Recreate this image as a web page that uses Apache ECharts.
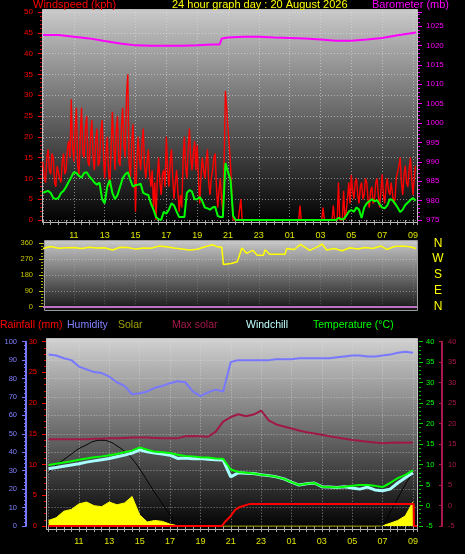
<!DOCTYPE html>
<html><head><meta charset="utf-8">
<script src="https://cdn.jsdelivr.net/npm/echarts@6/dist/echarts.min.js"></script>
<style>html,body{margin:0;padding:0;background:#000;}#c{width:465px;height:554px;}</style>
</head><body><div id="c"></div>
<script>
// ---- time base: hours after 09:00 on 19 Aug ----
// Wind gust (5-minute samples)
const windGust = [
 14,10,9,15,17,12,11,16,15,9,8,13,
 13,10,9,14,16,11,12,17,19,15,29,18,
 14,22,27,13,11,20,27,16,15,22,25,14,
 13,20,24,15,12,19,22,13,14,21,24,16,
 10,16,20,12,8,17,26,18,12,21,25,14,
 13,22,27,18,15,30,35,14,10,18,23,15,
 2,14,20,15,12,18,22,13,10,14,17,11,
 8,12,3,9,0,10,15,9,6,11,12,8,
 20,12,8,14,17,10,5,9,12,7,2,6,
 3,14,20,13,10,17,22,15,12,16,19,12,
 18,10,4,11,15,12,10,14,17,9,6,10,
 12,15,16,8,3,7,10,5,2,14,31,27,
 22,18,13,6,0,0,0,0,0,0,5,0,
 0,0,0,0,0,0,0,0,0,0,0,0,
 0,0,0,0,0,0,0,0,0,0,0,0,
 0,0,0,0,0,0,0,0,0,0,0,0,
 0,0,0,0,0,0,0,0,3.5,0,0,0,
 0,0,0,0,0,0,0,0,0,0,0,0,
 0,0,3,0,0,0,0,0,0,0,3.5,0,
 0,0,9,0,0,0,7,0,2,5,9,4,
 10.8,7,5,9,10,6,4,8,9,5,6,10,
 9,5,3,7,8,4,5,9,10,6,3,7,
 11,6,4,8,10,7,6,9,9,4,5,10,
 10,13,15,9,6,11,13,9,8,12,15,10,
 6,10,13];
// Average wind (10-minute samples)
const windAvg = [
 6.5,6.8,7,6.5,5.3,5,5.3,6.5,7,8,9.2,10.3,
 11.5,11.3,10.6,10.2,11.3,11.5,10.5,9.8,9,8.5,9,5,
 4,8,9.6,6.5,5,6,8,10,11,11.5,9.6,8,
 8.4,8.5,8.7,6.5,6.2,6,4,2.5,0.7,0.2,0,2,
 1.5,2.5,4,3.5,2,0.7,0.7,0.7,6.5,7.2,6.8,5,
 5,5.5,4.5,3,2.8,2.5,3,3.2,1,0.7,0.7,13.7,
 11.5,9.6,1,0,0,0,0,0,0,0,0,0,
 0,0,0,0,0,0,0,0,0,0,0,0,0,0,0,0,0,0,0,0,0,0,0,0,0,0,0,0,0,0,
 0,0.5,0.2,0.2,1,2,
 2.4,2,3,2.5,0.5,3,4,4.5,5,4.5,4.8,3.8,
 3,2.8,3.5,5,4.8,4,3,1.9,2.5,3.6,4.2,4.8,
 5.3,4.6];
const baroTime = [0,1,2,3,4,5,6,7,8,9,10,11,11.45,11.6,12,13,14,15,16,17,18,19,20,21,22,23,24.2];
const baroVal  = [1022.7,1022.7,1022.2,1021.8,1021.1,1020.5,1020.0,1019.9,1019.9,1019.9,1020.0,1020.2,1020.2,1021.8,1022.0,1022.2,1022.2,1022.0,1021.9,1021.8,1021.5,1021.2,1021.2,1021.5,1021.9,1022.6,1023.3];
const dirTime = [0,0.5,1,1.5,2,2.5,3,3.5,4,4.5,5,5.5,6,6.5,7,7.5,8,8.5,9,9.5,10,10.5,11,11.3,11.6,11.7,12.2,12.6,12.9,13.2,13.6,13.9,14.3,14.4,14.7,15.7,15.8,16.3,16.7,17.3,17.8,18.1,18.4,18.9,19.4,19.9,20.4,20.9,21.4,21.9,22.3,22.8,23.3,23.8,24.2];
const dirVal  = [330,342,332,335,336,330,337,333,335,322,338,336,327,333,332,344,340,333,328,322,326,340,352,340,337,240,245,255,333,303,320,292,292,323,298,298,330,325,354,320,340,356,322,330,318,335,328,336,330,345,325,342,345,340,330];
// Bottom panel (30-minute samples)
const temperature = [9.9,10.2,10.5,10.8,11.2,11.5,11.8,12.0,12.3,12.6,13.0,13.4,14.2,
 13.6,13.1,13.0,12.8,12.4,12.1,12.0,11.8,11.7,11.5,11.4,
 8.8,8.2,8.0,7.8,7.5,7.3,7.0,6.5,5.7,5.0,5.3,5.5,
 4.6,4.5,4.4,4.6,4.8,5.0,5.0,4.8,4.5,5.5,6.7,7.5,8.6];
const windchill = [9.0,9.3,9.6,9.9,10.2,10.6,10.9,11.2,11.5,11.9,12.3,12.8,13.6,
 13.1,12.8,12.6,12.3,11.5,11.6,11.4,11.5,11.3,11.2,11.1,
 7.0,8.0,7.9,7.8,7.5,7.3,7.0,6.5,5.7,5.0,5.3,5.5,
 4.6,4.5,4.4,4.6,4.3,4.0,4.5,3.8,3.6,4.0,5.5,6.8,8.0];
const humidity = [93,92.5,91,90,86.5,85,83.5,83,81,78,76,71.5,72,
 73,75,76,77.5,78.5,78,73,70.5,72.5,74,73,
 89,90,90,90,90,90,90.5,90.5,90.5,91,91,91,
 91,91,91.5,92,92.5,92.5,92,92,92.5,93,94,94.5,94];
const maxSolarLine = [16.2,16.2,16.2,16.2,16.2,16.2,16.3,16.3,16.4,16.4,16.5,16.6,16.6,16.6,16.5,16.4,16.4,16.4,
 16.9,17.0,16.9,16.8,18.0,20.5,
 21.6,22.3,21.8,22.2,23.2,20.8,19.8,19.3,18.8,18.3,17.9,17.6,
 17.3,16.9,16.6,16.3,16.0,15.8,15.6,15.4,15.2,15.3,15.4,15.3,15.4];
const solar = [30,45,80,90,120,130,110,105,130,115,125,160,60,22,30,25,10,2,
 0,0,0,0,0,0,0,0,0,0,0,0,0,0,0,0,0,0,0,0,0,0,0,0,0,0,
 2,15,30,55,130];
const solarCurve = [290,330,360,390,420,440,460,465,458,435,405,365,310,245,180,120,60,5,
 0,0,0,0,0,0,0,0,0,0,0,0,0,0,0,0,0,0,0,0,0,0,0,0,0,0,
 5,75,150,225,290];
const rainTime = [0,11.42,11.63,11.95,12.28,12.6,13.27,24.05,24.07,24.27];
const rainVal  = [0,0,0.7,1.5,2.6,3.1,3.6,3.6,0,0];
const hourTicks = ['09','10','11','12','13','14','15','16','17','18','19','20','21','22','23','00','01','02','03','04','05','06','07','08'];

const FONT = '"Liberation Sans", Arial, sans-serif';
const fiveMin = a => a.map((v,i)=>[i/12,v]);
const tenMin = a => a.map((v,i)=>[i/6,v]);
const halfHour = a => a.map((v,i)=>[i/2,v]);
const pairs = (t,v) => t.map((x,i)=>[x,v[i]]);
function xLabel(v){
  if (v <= 0 || Math.abs(v/2 - Math.round(v/2)) > 1e-6) return '';
  return hourTicks[Math.round(v) % 24];
}
const dotted = {show:true, lineStyle:{color:'rgba(225,225,225,0.55)', type:[1,2], width:1}};
const xLabColor = '#dce400';
function grad(c1,c2){return {type:'linear',x:0,y:0,x2:0,y2:1,colorStops:[{offset:0,color:c1},{offset:1,color:c2}]};}
function yAx(o){ o.type='value'; o.axisLine=Object.assign({onZero:false}, o.axisLine||{show:false}); return o; }
function xAx(o){ o.type='value'; o.axisLine=Object.assign({onZero:false, show:false}, o.axisLine||{}); return o; }

const chart = echarts.init(document.getElementById('c'), null, {renderer:'canvas'});
chart.setOption({
  backgroundColor:'#000',
  animation:false,
  textStyle:{fontFamily:FONT},
  graphic:[
    {type:'rect', z:-10, shape:{x:42.5,y:9.5,width:375,height:213}, style:{fill:grad('#cacaca','#000000'), stroke:'#bdbdbd', lineWidth:1}},
    {type:'rect', z:-10, shape:{x:44.5,y:240.5,width:373,height:70}, style:{fill:grad('#cacaca','#121212'), stroke:'#9a9a9a', lineWidth:1}},
    {type:'rect', z:-10, shape:{x:46.5,y:338.5,width:371,height:191}, style:{fill:grad('#d2d2d2','#000000'), stroke:'#bdbdbd', lineWidth:1}},
    {type:'text', left:33, top:-1, style:{text:'Windspeed (kph)', fill:'#ff0000', font:'11px '+FONT}},
    {type:'text', left:172, top:-1, style:{text:'24 hour graph day : 20 August 2026', fill:'#ffff00', font:'11px '+FONT}},
    {type:'text', left:372, top:-1, style:{text:'Barometer (mb)', fill:'#ff00ff', font:'11px '+FONT}},
    {type:'text', left:0, top:320, style:{text:'Rainfall (mm)', fill:'#ff0000', font:'10.5px '+FONT}},
    {type:'text', left:67, top:320, style:{text:'Humidity', fill:'#8080ff', font:'10.5px '+FONT}},
    {type:'text', left:118, top:320, style:{text:'Solar', fill:'#a0a000', font:'10.5px '+FONT}},
    {type:'text', left:172, top:320, style:{text:'Max solar', fill:'#a8184c', font:'10.5px '+FONT}},
    {type:'text', left:246, top:320, style:{text:'Windchill', fill:'#c0ffff', font:'10.5px '+FONT}},
    {type:'text', left:313, top:320, style:{text:'Temperature (°C)', fill:'#00ff00', font:'10.5px '+FONT}}
  ],
  grid:[
    {left:43, top:12, width:374, height:208},
    {left:43, top:243.3, width:374, height:63.4},
    {left:48.6, top:341.7, width:368.4, height:184.3}
  ],
  xAxis:[
    xAx({gridIndex:0, min:0, max:24.26, interval:0.5, position:'bottom',
     axisTick:{show:true, length:5, lineStyle:{color:'#a8a8a8'}},
     axisLabel:{formatter:xLabel, color:xLabColor, fontSize:9, margin:11}, splitLine:{show:false}}),
    xAx({gridIndex:0, min:0, max:24.26, interval:2, position:'bottom',
     axisTick:{show:false}, axisLabel:{show:false}, splitLine:dotted}),
    xAx({gridIndex:1, min:0, max:24.26, interval:2, position:'bottom',
     axisTick:{show:false}, axisLabel:{show:false},
     splitLine:{show:true, lineStyle:{color:'rgba(225,225,225,0.25)', type:[1,2]}}}),
    xAx({gridIndex:2, min:0, max:24.27, interval:0.5, position:'bottom',
     axisTick:{show:true, length:6, lineStyle:{color:'#a8a8a8'}},
     axisLabel:{formatter:xLabel, color:xLabColor, fontSize:9, margin:11}, splitLine:{show:false}}),
    xAx({gridIndex:2, min:0, max:24.27, interval:2, position:'bottom',
     axisTick:{show:false}, axisLabel:{show:false}, splitLine:dotted})
  ],
  yAxis:[
    yAx({gridIndex:0, position:'left', min:0, max:50, interval:5, offset:1,
     axisTick:{show:true, length:4, lineStyle:{color:'#ff0000'}},
     minorTick:{show:true, splitNumber:5, length:2, lineStyle:{color:'#d00000'}},
     axisLabel:{color:'#ff0000', fontSize:8, margin:9}, splitLine:dotted}),
    yAx({gridIndex:0, position:'right', min:975, max:1028.6, interval:5, offset:1,
     axisTick:{show:true, length:4, lineStyle:{color:'#ff00ff'}},
     minorTick:{show:true, splitNumber:5, length:2, lineStyle:{color:'#e000e0'}},
     axisLabel:{color:'#ff00ff', fontSize:8, margin:8, formatter:v=>(Math.abs(v%5)<1e-6?String(v):'')},
     splitLine:{show:false}}),
    yAx({gridIndex:1, position:'left', min:0, max:360, interval:90, offset:0,
     axisTick:{show:true, length:4, lineStyle:{color:'#c8c800'}},
     minorTick:{show:true, splitNumber:5, length:2, lineStyle:{color:'#a8a800'}},
     axisLabel:{color:'#c8c800', fontSize:7.5, margin:10},
     splitLine:{show:true, lineStyle:{color:'rgba(225,225,225,0.45)', type:[1,2]}}}),
    yAx({gridIndex:1, position:'right', min:0, max:360, interval:90,
     axisTick:{show:false}, splitLine:{show:false},
     axisLabel:{color:'#ffff00', fontSize:12, margin:21, align:'center', padding:[6,0,0,0],
       formatter:v=>({0:'N',90:'E',180:'S',270:'W',360:'N'}[v]||'')}}),
    yAx({gridIndex:2, position:'left', min:0, max:100, interval:10, offset:22.6,
     axisLine:{show:true, lineStyle:{color:'#7878ff', width:2}},
     axisTick:{show:true, length:4, lineStyle:{color:'#7878ff'}},
     minorTick:{show:true, splitNumber:5, length:2, lineStyle:{color:'#7878ff'}},
     axisLabel:{color:'#8080ff', fontSize:7.5, margin:9}, splitLine:dotted}),
    yAx({gridIndex:2, position:'left', min:0, max:30, interval:5, offset:2.6,
     axisTick:{show:true, length:4, lineStyle:{color:'#ff0000'}},
     minorTick:{show:true, splitNumber:5, length:2, lineStyle:{color:'#d00000'}},
     axisLabel:{color:'#ff0000', fontSize:7.5, margin:9}, splitLine:{show:false}}),
    yAx({gridIndex:2, position:'right', min:-5, max:40, interval:5, offset:2,
     axisTick:{show:true, length:4, lineStyle:{color:'#00d000'}},
     minorTick:{show:true, splitNumber:5, length:2, lineStyle:{color:'#00b000'}},
     axisLabel:{color:'#00ff00', fontSize:7.5, margin:7}, splitLine:{show:false}}),
    yAx({gridIndex:2, position:'right', min:-5, max:40, interval:5, offset:25,
     axisLine:{show:true, lineStyle:{color:'#a8184c', width:2}},
     axisTick:{show:true, inside:true, length:3, lineStyle:{color:'#a8184c'}},
     minorTick:{show:false},
     axisLabel:{color:'#a8184c', fontSize:7.5, margin:6}, splitLine:{show:false}}),
    yAx({gridIndex:2, position:'right', min:0, max:1000, show:false})
  ],
  series:[
    {name:'Baro', type:'line', xAxisIndex:0, yAxisIndex:1, data:pairs(baroTime,baroVal), showSymbol:false, clip:false,
     lineStyle:{color:'#ff00ff', width:2}, z:3},
    {name:'Gust', type:'line', xAxisIndex:0, yAxisIndex:0, data:fiveMin(windGust), showSymbol:false, clip:false,
     lineStyle:{color:'#ff0000', width:1.4}, z:4},
    {name:'Wind', type:'line', xAxisIndex:0, yAxisIndex:0, data:tenMin(windAvg), showSymbol:false, clip:false,
     lineStyle:{color:'#00ff00', width:2}, z:5},
    {name:'Direction', type:'line', xAxisIndex:2, yAxisIndex:2, data:pairs(dirTime,dirVal), showSymbol:false,
     lineStyle:{color:'#ffff00', width:1.5}, z:4,
     markLine:{silent:true, symbol:['none','none'], label:{show:false},
       lineStyle:{color:'#c070c0', width:2, type:'solid'}, data:[{yAxis:0}]}},
    {name:'Humidity', type:'line', xAxisIndex:3, yAxisIndex:4, data:halfHour(humidity), showSymbol:false,
     lineStyle:{color:'#7878ff', width:2}, z:3},
    {name:'Max solar', type:'line', xAxisIndex:3, yAxisIndex:7, data:halfHour(maxSolarLine), showSymbol:false,
     lineStyle:{color:'#a01848', width:2}, z:3},
    {name:'Solar', type:'line', xAxisIndex:3, yAxisIndex:8, data:halfHour(solar), showSymbol:false, clip:false,
     lineStyle:{color:'#ffff00', width:1}, areaStyle:{color:'#ffff00', opacity:1}, z:3},
    {name:'SolarCurve', type:'line', xAxisIndex:3, yAxisIndex:8, data:halfHour(solarCurve), showSymbol:false, smooth:true,
     lineStyle:{color:'#000000', width:1}, z:4},
    {name:'Windchill', type:'line', xAxisIndex:3, yAxisIndex:6, data:halfHour(windchill), showSymbol:false,
     lineStyle:{color:'#a8ffff', width:3}, z:4},
    {name:'Temperature', type:'line', xAxisIndex:3, yAxisIndex:6, data:halfHour(temperature), showSymbol:false,
     lineStyle:{color:'#00ff00', width:2}, z:5},
    {name:'Rainfall', type:'line', xAxisIndex:3, yAxisIndex:5, data:pairs(rainTime,rainVal), showSymbol:false, clip:false,
     lineStyle:{color:'#ff0000', width:2}, z:6}
  ]
});
</script></body></html>
